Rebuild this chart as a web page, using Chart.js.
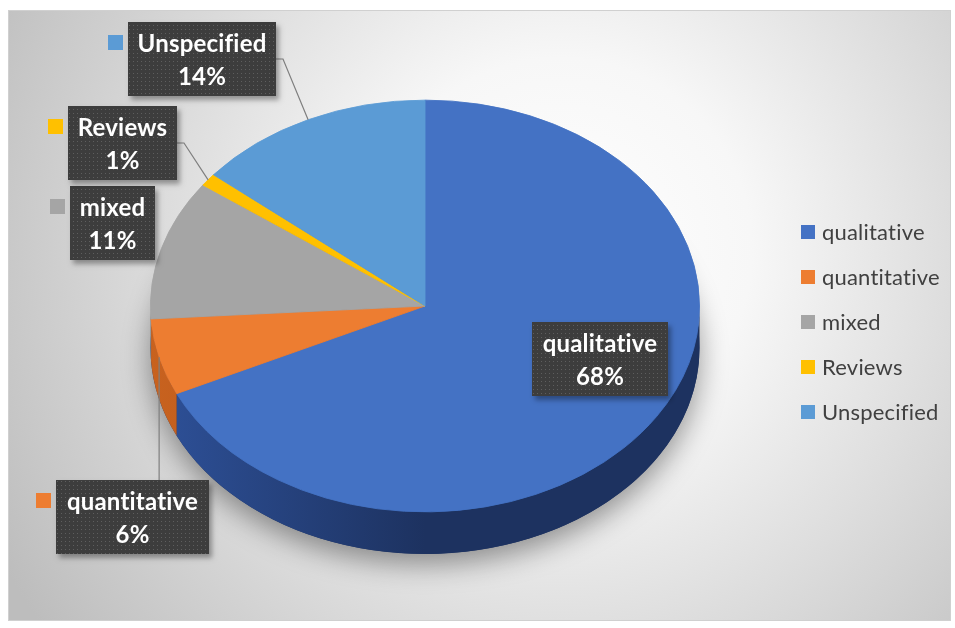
<!DOCTYPE html>
<html>
<head>
<meta charset="utf-8">
<title>Study types</title>
<script src="https://cdn.jsdelivr.net/npm/chart.js@4.4.1/dist/chart.umd.min.js"></script>
<style>
  html, body { margin: 0; padding: 0; background: #fff; }
  #wrap { width: 955px; height: 628px; }
</style>
</head>
<body>
<div id="wrap"><canvas id="studyChart" width="955" height="628"></canvas></div>
<script>
// ---------- Data ----------
const categories = ['qualitative', 'quantitative', 'mixed', 'Reviews', 'Unspecified'];
const shares = [68, 6, 11, 1, 14];

// ---------- Look ----------
const sliceColors = ['#4472C4', '#ED7D31', '#A5A5A5', '#FFC000', '#5B9BD5'];
const wallColors = [
  ['#2e5199', '#1d3260'],
  ['#c8621f', '#a84f15'],
  ['#7d7d7d', '#666666'],
  ['#c79600', '#a37b00'],
  ['#3f79ad', '#2f5f8c']
];
const TILT = 0.75;   // vertical squash of the disc top
const DEPTH = 42;    // thickness of the disc side
const BOX_H = 74;

// callout boxes, one per slice
const callouts = [
  { x: 532, y: 322, w: 136, key: false, leader: null },
  { x: 56,  y: 480, w: 153, key: true,  leader: 'top' },
  { x: 70,  y: 186, w: 85,  key: true,  leader: null },
  { x: 68,  y: 106, w: 109, key: true,  leader: 'right' },
  { x: 128, y: 22,  w: 148, key: true,  leader: 'right' }
];

function makeDotPattern(ctx) {
  const c = document.createElement('canvas');
  c.width = 4; c.height = 4;
  const p = c.getContext('2d');
  p.fillStyle = '#3d3d3d';
  p.fillRect(0, 0, 4, 4);
  p.fillStyle = '#5e5e5e';
  p.fillRect(1, 1, 1, 1);
  return ctx.createPattern(c, 'repeat');
}

// ---------- Plugins ----------
const backdrop = {
  id: 'backdrop',
  beforeDraw(chart) {
    const ctx = chart.ctx;
    ctx.save();
    ctx.fillStyle = '#fff';
    ctx.fillRect(0, 0, chart.width, chart.height);
    const g = ctx.createRadialGradient(560, 250, 0, 560, 250, 640);
    g.addColorStop(0, '#ffffff');
    g.addColorStop(0.3, '#f7f7f7');
    g.addColorStop(1, '#bdbdbd');
    ctx.fillStyle = g;
    ctx.fillRect(8, 10, 943, 611);
    ctx.strokeStyle = '#d0d0d0';
    ctx.lineWidth = 1;
    ctx.strokeRect(8.5, 10.5, 942, 610);
    ctx.restore();
  }
};

const tiltedPie = {
  id: 'tiltedPie',
  beforeDatasetsDraw(chart) {
    const ctx = chart.ctx;
    const arcs = chart.getDatasetMeta(0).data;
    const { x, y, outerRadius: r } = arcs[0];
    const ry = r * TILT;

    // soft shadow under the disc
    ctx.save();
    ctx.shadowColor = 'rgba(0,0,0,0.4)';
    ctx.shadowBlur = 28;
    ctx.shadowOffsetY = 10;
    ctx.fillStyle = wallColors[0][1];
    ctx.beginPath();
    ctx.ellipse(x, y + DEPTH, r, ry, 0, 0, Math.PI * 2);
    ctx.fill();
    ctx.restore();

    // side walls, front half only
    arcs.forEach((arc, i) => {
      const s = Math.max(arc.startAngle, 0);
      const e = Math.min(arc.endAngle, Math.PI);
      if (s >= e) return;
      const g = ctx.createLinearGradient(x - r, 0, x + r, 0);
      g.addColorStop(0, wallColors[i][0]);
      g.addColorStop(0.5, wallColors[i][1]);
      g.addColorStop(1, wallColors[i][1]);
      ctx.beginPath();
      ctx.ellipse(x, y, r, ry, 0, s, e);
      ctx.lineTo(x + r * Math.cos(e), y + ry * Math.sin(e) + DEPTH);
      ctx.ellipse(x, y + DEPTH, r, ry, 0, e, s, true);
      ctx.closePath();
      ctx.fillStyle = g;
      ctx.fill();
    });

    // squash the disc drawn by the pie controller
    ctx.save();
    ctx.translate(x, y);
    ctx.scale(1, TILT);
    ctx.translate(-x, -y);
  },
  afterDatasetsDraw(chart) {
    chart.ctx.restore();
  }
};

const calloutLabels = {
  id: 'calloutLabels',
  afterDraw(chart) {
    const ctx = chart.ctx;
    const arcs = chart.getDatasetMeta(0).data;
    const values = chart.data.datasets[0].data;
    const colors = chart.data.datasets[0].backgroundColor;
    const total = values.reduce((a, b) => a + b, 0);
    const pattern = makeDotPattern(ctx);

    ctx.save();
    // a touch of tracking keeps "ti" from fusing into a ligature
    ctx.letterSpacing = '0.2px';
    arcs.forEach((arc, i) => {
      const box = callouts[i];

      if (box.leader) {
        const mid = (arc.startAngle + arc.endAngle) / 2;
        const ax = arc.x + arc.outerRadius * Math.cos(mid);
        const ay = arc.y + arc.outerRadius * TILT * Math.sin(mid);
        ctx.strokeStyle = '#7f7f7f';
        ctx.lineWidth = 1.2;
        ctx.beginPath();
        if (box.leader === 'right') {
          const by = box.y + BOX_H / 2;
          ctx.moveTo(box.x + box.w, by);
          ctx.lineTo(box.x + box.w + 7, by);
        } else {
          ctx.moveTo(ax, box.y);
        }
        ctx.lineTo(ax, ay);
        ctx.stroke();
      }

      ctx.save();
      ctx.shadowColor = 'rgba(0,0,0,0.35)';
      ctx.shadowBlur = 5;
      ctx.shadowOffsetX = 3;
      ctx.shadowOffsetY = 4;
      ctx.fillStyle = '#3d3d3d';
      ctx.fillRect(box.x, box.y, box.w, BOX_H);
      ctx.restore();
      ctx.fillStyle = pattern;
      ctx.fillRect(box.x, box.y, box.w, BOX_H);

      if (box.key) {
        ctx.fillStyle = colors[i];
        ctx.fillRect(box.x - 20, box.y + 13, 15, 15);
      }

      const cx = box.x + box.w / 2;
      ctx.fillStyle = '#ffffff';
      ctx.font = 'bold 24px Lato';
      ctx.textAlign = 'center';
      ctx.textBaseline = 'alphabetic';
      ctx.fillText(chart.data.labels[i], cx, box.y + 30);
      ctx.fillText(Math.round(values[i] / total * 100) + '%', cx, box.y + 63);
    });

    // legend
    ctx.font = '22px Lato';
    ctx.textAlign = 'left';
    ctx.textBaseline = 'middle';
    chart.data.labels.forEach((label, i) => {
      const cy = 232 + i * 45;
      ctx.fillStyle = colors[i];
      ctx.fillRect(801, cy - 7, 14, 14);
      ctx.fillStyle = '#404040';
      ctx.fillText(label, 822, cy + 1);
    });
    ctx.restore();
  }
};

// ---------- Chart ----------
new Chart(document.getElementById('studyChart'), {
  type: 'pie',
  data: {
    labels: categories,
    datasets: [{
      data: shares,
      backgroundColor: sliceColors,
      borderColor: sliceColors,
      borderWidth: 1,
      clip: false
    }]
  },
  options: {
    responsive: false,
    animation: false,
    events: [],
    layout: { padding: { left: 150, right: 255, top: 31, bottom: 47 } },
    plugins: {
      legend: { display: false },
      tooltip: { enabled: false }
    }
  },
  plugins: [backdrop, tiltedPie, calloutLabels]
});
</script>
</body>
</html>
